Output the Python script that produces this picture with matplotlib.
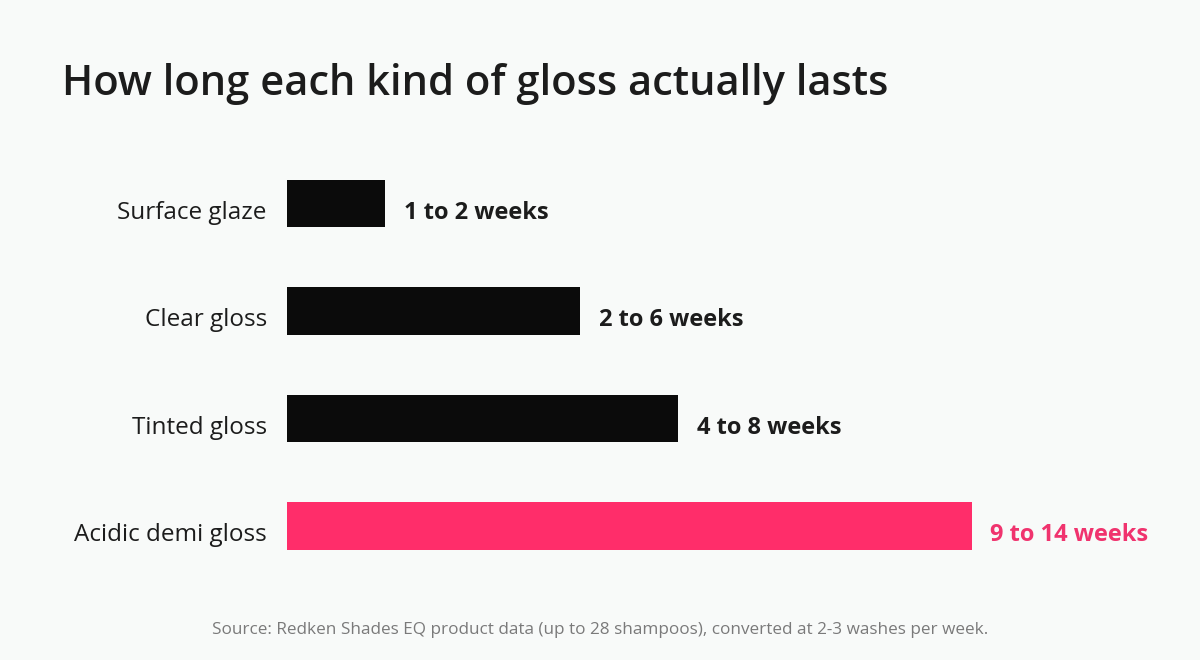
import matplotlib
matplotlib.use("Agg")
import matplotlib.pyplot as plt
from matplotlib.transforms import offset_copy

categories = ["Surface glaze", "Clear gloss", "Tinted gloss", "Acidic demi gloss"]
max_weeks = [2, 6, 8, 14]
value_labels = ["1 to 2 weeks", "2 to 6 weeks", "4 to 8 weeks", "9 to 14 weeks"]
highlight = "Acidic demi gloss"

BG = "#f8faf9"
DARK = "#0b0b0b"
PINK = "#ff2d6a"
TEXT = "#1c1c1c"

plt.rcParams["font.family"] = ["Open Sans", "DejaVu Sans"]

fig = plt.figure(figsize=(12, 6.6), dpi=100, facecolor=BG)
ax = fig.add_axes([287 / 1200, 1 - 579.75 / 660, (1150 - 287) / 1200, 430 / 660])
ax.set_facecolor(BG)

colors = [PINK if c == highlight else DARK for c in categories]
ypos = list(range(len(categories)))
ax.barh(ypos, max_weeks, height=0.44, color=colors, zorder=2)

ax.set_xlim(0, (1150 - 287) / 48.9)
ax.set_ylim(3.5, -0.5)

# value labels to the right of each bar
for y, w, lab, col in zip(ypos, max_weeks, value_labels, colors):
    tcol = "#f0336e" if col == PINK else TEXT
    trans = offset_copy(ax.transData, fig=fig, x=13.5, y=-4.5, units="points")
    ax.text(w, y, lab, transform=trans, ha="left", va="center_baseline",
            fontsize=17, fontweight="bold", color=tcol)

# category labels, right aligned left of the bars
for y, c in zip(ypos, categories):
    trans = offset_copy(ax.transData, fig=fig, x=-14.5, y=-4.5, units="points")
    ax.text(0, y, c, transform=trans, ha="right", va="center_baseline",
            fontsize=17.5, color=TEXT)

ax.set_xticks([])
ax.set_yticks([])
for s in ax.spines.values():
    s.set_visible(False)

fig.text(62 / 1200, 1 - 95 / 660, "How long each kind of gloss actually lasts",
         ha="left", va="baseline", fontsize=30, fontweight="semibold", color=TEXT)
fig.text(0.5, 1 - 630 / 660,
         "Source: Redken Shades EQ product data (up to 28 shampoos), converted at 2-3 washes per week.",
         ha="center", va="center", fontsize=12.3, color="#7a7a7a")

fig.savefig("out.png", dpi=100, facecolor=BG)
